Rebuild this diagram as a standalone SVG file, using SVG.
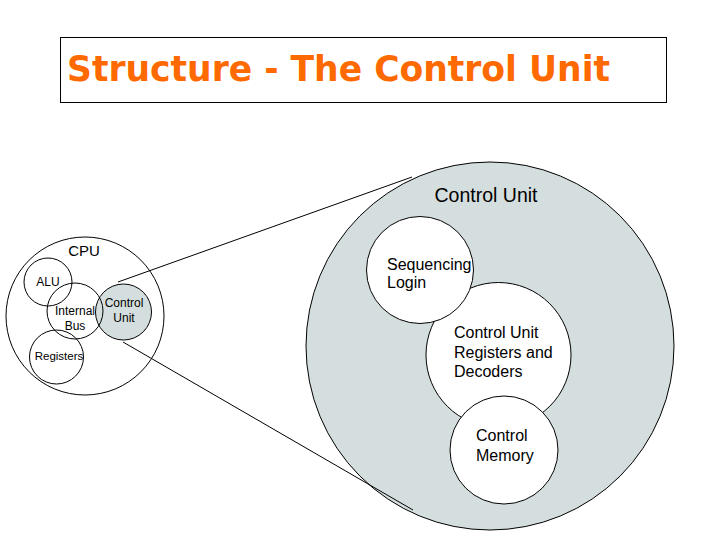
<svg xmlns="http://www.w3.org/2000/svg" width="720" height="540" viewBox="0 0 720 540">
<style>
.c{stroke:#000;stroke-width:1}
.w{fill:#fff}
.n{fill:none}
.g{fill:#d5dede}
text{font-family:"Liberation Sans",Arial,sans-serif;fill:#000}
.t{font-family:"DejaVu Sans","Liberation Sans",sans-serif;font-size:35px;font-weight:bold;fill:#ff6a00}
</style>
<rect width="720" height="540" fill="#fff"/>
<g id="title">
<rect x="60.5" y="37.5" width="606" height="65" fill="#fff" stroke="#000"/>
<text class="t" x="67" y="81" textLength="543" lengthAdjust="spacingAndGlyphs">Structure - The Control Unit</text>
</g>
<g id="control-unit-big">
<circle class="c g" cx="490" cy="346" r="184"/>
<text x="486" y="202" font-size="19.5" text-anchor="middle">Control Unit</text>
</g>
<g id="registers-decoders">
<circle class="c w" cx="498.5" cy="355" r="72.5"/>
<text x="454" y="338" font-size="16">Control Unit</text>
<text x="454" y="358" font-size="16">Registers and</text>
<text x="454" y="377" font-size="16">Decoders</text>
</g>
<g id="control-memory">
<circle class="c w" cx="504" cy="450" r="54"/>
<text x="476" y="441" font-size="16">Control</text>
<text x="476" y="461" font-size="16">Memory</text>
</g>
<g id="sequencing-login">
<circle class="c w" cx="420" cy="270" r="53.5"/>
<text x="387" y="270" font-size="16">Sequencing</text>
<text x="387" y="288" font-size="16">Login</text>
</g>
<g id="cpu">
<circle class="c w" cx="85" cy="316" r="79"/>
<text x="84" y="256" font-size="15" text-anchor="middle">CPU</text>
</g>
<g id="cpu-control-unit">
<circle class="c g" cx="123.5" cy="312" r="28"/>
<text x="124" y="307" font-size="12" text-anchor="middle">Control</text>
<text x="124" y="322" font-size="12" text-anchor="middle">Unit</text>
</g>
<g id="alu">
<circle class="c n" cx="48" cy="282" r="24"/>
<text x="48" y="286" font-size="12" text-anchor="middle">ALU</text>
</g>
<g id="internal-bus">
<circle class="c n" cx="75" cy="311" r="28"/>
<text x="75" y="315" font-size="12" text-anchor="middle">Internal</text>
<text x="75" y="330" font-size="12" text-anchor="middle">Bus</text>
</g>
<g id="registers">
<circle class="c n" cx="56.5" cy="357" r="27"/>
<text x="59" y="360" font-size="11.5" text-anchor="middle">Registers</text>
</g>
<g id="connectors" stroke="#000" stroke-width="1" fill="none">
<line x1="118" y1="282" x2="412" y2="177"/>
<line x1="123" y1="342" x2="413" y2="510"/>
</g>
</svg>
